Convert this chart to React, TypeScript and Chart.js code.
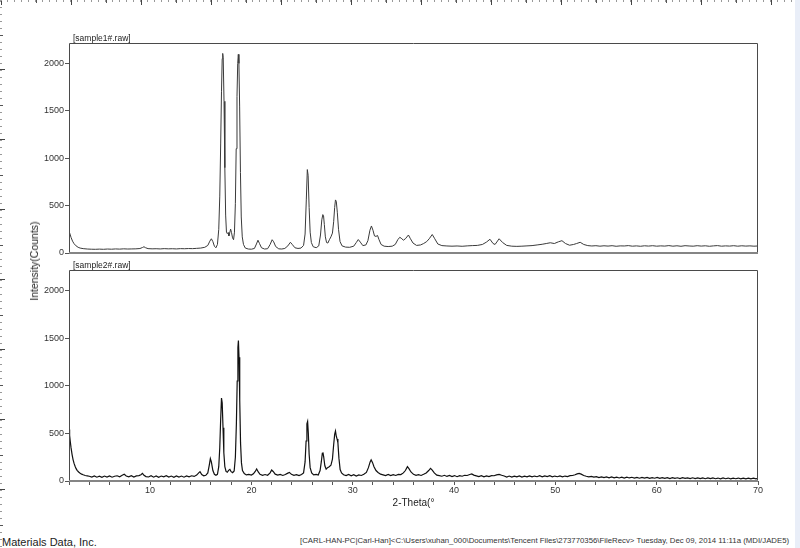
import React, { useEffect, useRef } from "react";
import { Chart, registerables } from "chart.js";

Chart.register(...registerables);

const FONT = '"Liberation Sans", Arial, sans-serif';

// ---- axes ----
const xRange = [2, 70];
const yRange = [0, 2215];
const xTickValues = [2, 4, 6, 8, 10, 12, 14, 16, 18, 20, 22, 24, 26, 28, 30, 32, 34, 36, 38, 40, 42, 44, 46, 48, 50, 52, 54, 56, 58, 60, 62, 64, 66, 68, 70];
const xTickLabels = [10, 20, 30, 40, 50, 60, 70];
const yTickValues = [0, 500, 1000, 1500, 2000];

const panelTitles = ["[sample1#.raw]", "[sample2#.raw]"];
const xAxisTitle = "2-Theta(\u00b0";
const yAxisTitle = "Intensity(Counts)";
const footerLeft = "Materials Data, Inc.";
const footerRight =
  "[CARL-HAN-PC|Carl-Han]<C:\\Users\\xuhan_000\\Documents\\Tencent Files\\273770356\\FileRecv> Tuesday, Dec 09, 2014 11:11a (MDI/JADE5)";

// ---- sample 1: [2-theta, counts] ----
const sample1: [number, number][] = [
  [2.0, 230], [2.1, 200], [2.2, 165], [2.35, 125], [2.5, 98], [2.7, 75], [2.9, 60], [3.1, 52], [3.4, 46], [3.8, 42],
  [4.2, 40], [4.6, 39], [5.0, 41], [5.4, 39], [5.8, 42], [6.2, 40], [6.6, 43], [7.0, 41], [7.4, 44], [7.8, 42],
  [8.2, 43], [8.6, 44], [9.0, 47], [9.25, 58], [9.4, 66], [9.55, 56], [9.8, 46], [10.2, 44], [10.6, 45], [11.0, 43],
  [11.4, 46], [11.8, 44], [12.2, 45], [12.6, 43], [13.0, 46], [13.4, 45], [13.8, 47], [14.2, 46], [14.6, 49], [15.0, 52],
  [15.4, 60], [15.7, 80], [15.9, 125], [16.05, 150], [16.2, 120], [16.35, 72], [16.5, 55], [16.65, 90], [16.78, 250],
  [16.88, 600], [16.97, 1150], [17.05, 1700], [17.12, 2050], [17.17, 2105], [17.22, 2060], [17.3, 1600], [17.38, 900],
  [17.46, 400], [17.54, 220], [17.62, 205], [17.7, 215], [17.78, 180], [17.86, 210], [17.95, 252], [18.04, 215],
  [18.14, 160], [18.24, 140], [18.33, 220], [18.42, 520], [18.5, 1100], [18.58, 1650], [18.65, 2000], [18.71, 2095],
  [18.77, 2000], [18.84, 1550], [18.92, 850], [19.0, 380], [19.1, 170], [19.22, 90], [19.4, 52], [19.7, 42], [20.0, 40],
  [20.3, 48], [20.5, 95], [20.65, 135], [20.8, 100], [21.0, 55], [21.3, 42], [21.6, 45], [21.85, 90], [22.05, 140],
  [22.2, 118], [22.4, 68], [22.7, 44], [23.0, 42], [23.3, 48], [23.6, 75], [23.85, 113], [24.05, 88], [24.3, 55],
  [24.6, 48], [24.9, 52], [25.15, 80], [25.3, 200], [25.42, 560], [25.52, 880], [25.6, 820], [25.7, 480], [25.8, 220],
  [25.92, 110], [26.1, 66], [26.4, 56], [26.65, 75], [26.82, 190], [26.95, 350], [27.05, 405], [27.12, 395], [27.2, 300],
  [27.3, 170], [27.42, 110], [27.55, 105], [27.7, 140], [27.85, 170], [28.0, 210], [28.12, 330], [28.22, 480], [28.3, 560],
  [28.38, 545], [28.48, 430], [28.6, 250], [28.75, 120], [28.95, 75], [29.3, 62], [29.7, 60], [30.1, 72], [30.35, 110],
  [30.55, 142], [30.75, 115], [31.0, 78], [31.3, 85], [31.5, 130], [31.7, 240], [31.85, 285], [32.0, 240], [32.15, 180],
  [32.3, 175], [32.45, 185], [32.6, 140], [32.8, 90], [33.1, 72], [33.5, 68], [33.9, 72], [34.2, 90], [34.45, 140],
  [34.65, 166], [34.85, 150], [35.0, 135], [35.2, 150], [35.5, 190], [35.7, 150], [35.95, 105], [36.3, 80], [36.7, 85],
  [37.0, 100], [37.3, 120], [37.55, 150], [37.85, 195], [38.1, 150], [38.4, 95], [38.8, 78], [39.3, 74], [39.8, 72],
  [40.3, 74], [40.8, 71], [41.3, 75], [41.8, 78], [42.3, 80], [42.8, 90], [43.2, 115], [43.55, 145], [43.85, 100],
  [44.05, 90], [44.45, 150], [44.8, 110], [45.2, 80], [45.7, 72], [46.2, 70], [46.7, 72], [47.2, 75], [47.7, 78],
  [48.2, 85], [48.7, 92], [49.1, 100], [49.5, 108], [49.9, 100], [50.3, 118], [50.65, 130], [51.0, 100], [51.4, 82],
  [51.8, 90], [52.1, 100], [52.45, 113], [52.8, 90], [53.2, 78], [53.6, 74], [54.0, 77], [54.4, 72], [54.8, 76],
  [55.2, 73], [55.6, 77], [56.0, 71], [56.4, 75], [56.8, 74], [57.2, 78], [57.6, 72], [58.0, 75], [58.4, 71], [58.8, 76],
  [59.2, 73], [59.6, 77], [60.0, 72], [60.4, 75], [60.8, 73], [61.2, 78], [61.6, 72], [62.0, 76], [62.4, 71], [62.8, 77],
  [63.2, 74], [63.6, 72], [64.0, 77], [64.4, 73], [64.8, 76], [65.2, 71], [65.6, 75], [66.0, 78], [66.4, 72], [66.8, 75],
  [67.2, 73], [67.6, 77], [68.0, 72], [68.4, 76], [68.8, 73], [69.2, 75], [69.6, 72], [70.0, 74],
];

// ---- sample 2: [2-theta, counts] ----
const sample2: [number, number][] = [
  [2.0, 540], [2.06, 480], [2.12, 420], [2.2, 350], [2.3, 280], [2.4, 225], [2.5, 185], [2.6, 155], [2.7, 130], [2.8, 112],
  [2.95, 95], [3.1, 82], [3.25, 72], [3.4, 65], [3.6, 58], [3.8, 54], [4.0, 50], [4.25, 42], [4.5, 54], [4.75, 40],
  [5.0, 50], [5.25, 38], [5.5, 52], [5.75, 42], [6.0, 53], [6.25, 40], [6.5, 50], [6.75, 55], [7.0, 44], [7.25, 60],
  [7.45, 70], [7.65, 52], [7.9, 44], [8.15, 56], [8.4, 42], [8.65, 54], [8.9, 57], [9.1, 66], [9.25, 80], [9.4, 60],
  [9.6, 46], [9.85, 42], [10.1, 56], [10.35, 40], [10.6, 53], [10.85, 39], [11.1, 52], [11.35, 43], [11.6, 55], [11.85, 41],
  [12.1, 52], [12.35, 39], [12.6, 54], [12.85, 42], [13.1, 52], [13.35, 40], [13.6, 53], [13.85, 44], [14.1, 55], [14.35, 48],
  [14.6, 62], [14.8, 85], [14.93, 98], [15.1, 68], [15.3, 54], [15.5, 60], [15.7, 85], [15.85, 170], [15.95, 235],
  [16.05, 200], [16.2, 110], [16.35, 70], [16.5, 60], [16.65, 70], [16.78, 150], [16.88, 350], [16.97, 650], [17.05, 870],
  [17.12, 820], [17.2, 560], [17.28, 300], [17.38, 150], [17.5, 100], [17.62, 92], [17.75, 112], [17.88, 122], [18.0, 98],
  [18.15, 88], [18.3, 105], [18.42, 250], [18.52, 600], [18.6, 1050], [18.67, 1400], [18.72, 1475], [18.78, 1300],
  [18.85, 850], [18.93, 400], [19.02, 190], [19.12, 110], [19.3, 78], [19.5, 64], [19.75, 70], [20.0, 62], [20.2, 76],
  [20.38, 100], [20.52, 126], [20.68, 95], [20.85, 70], [21.1, 60], [21.35, 68], [21.6, 60], [21.85, 85], [22.0, 115],
  [22.15, 100], [22.35, 72], [22.6, 62], [22.85, 70], [23.1, 58], [23.35, 68], [23.55, 80], [23.75, 90], [23.95, 70],
  [24.2, 60], [24.45, 66], [24.7, 56], [24.95, 68], [25.15, 85], [25.3, 200], [25.4, 420], [25.48, 600], [25.55, 625],
  [25.62, 500], [25.7, 280], [25.8, 140], [25.95, 85], [26.15, 64], [26.4, 70], [26.6, 62], [26.78, 110], [26.9, 200],
  [27.0, 290], [27.06, 300], [27.14, 250], [27.25, 160], [27.38, 125], [27.52, 140], [27.68, 150], [27.85, 165], [28.0, 230],
  [28.12, 380], [28.22, 490], [28.3, 525], [28.38, 470], [28.46, 440], [28.54, 400], [28.64, 240], [28.76, 120], [28.9, 85],
  [29.1, 66], [29.35, 56], [29.6, 68], [29.85, 55], [30.1, 66], [30.35, 52], [30.6, 64], [30.85, 58], [31.1, 70],
  [31.35, 90], [31.55, 140], [31.72, 200], [31.82, 222], [31.95, 195], [32.1, 150], [32.3, 110], [32.5, 90], [32.75, 72],
  [33.0, 64], [33.25, 56], [33.5, 68], [33.75, 56], [34.0, 66], [34.25, 58], [34.5, 70], [34.75, 68], [35.0, 85],
  [35.2, 110], [35.4, 150], [35.55, 130], [35.75, 95], [36.0, 70], [36.25, 60], [36.5, 66], [36.75, 58], [37.0, 70],
  [37.25, 85], [37.5, 110], [37.68, 133], [37.85, 115], [38.05, 85], [38.3, 62], [38.55, 56], [38.8, 50], [39.05, 60],
  [39.3, 48], [39.55, 58], [39.8, 47], [40.05, 57], [40.3, 45], [40.55, 56], [40.8, 50], [41.05, 60], [41.3, 58],
  [41.55, 68], [41.75, 74], [41.95, 62], [42.2, 54], [42.45, 46], [42.7, 55], [42.95, 44], [43.2, 54], [43.45, 46],
  [43.7, 56], [43.95, 55], [44.2, 64], [44.45, 70], [44.7, 60], [44.95, 52], [45.2, 42], [45.45, 52], [45.7, 41],
  [45.95, 51], [46.2, 43], [46.45, 53], [46.7, 42], [46.95, 50], [47.2, 44], [47.45, 54], [47.7, 43], [47.95, 52],
  [48.2, 45], [48.45, 55], [48.7, 44], [48.95, 53], [49.2, 46], [49.45, 55], [49.7, 44], [49.95, 52], [50.2, 45],
  [50.45, 54], [50.7, 44], [50.95, 52], [51.2, 47], [51.45, 56], [51.7, 58], [51.95, 66], [52.15, 75], [52.35, 80],
  [52.55, 72], [52.8, 58], [53.05, 50], [53.3, 44], [53.55, 48], [53.8, 40], [54.05, 46], [54.3, 36], [54.55, 44],
  [54.8, 35], [55.05, 43], [55.3, 34], [55.55, 42], [55.8, 33], [56.05, 41], [56.3, 32], [56.55, 40], [56.8, 31],
  [57.05, 40], [57.3, 32], [57.55, 39], [57.8, 30], [58.05, 38], [58.3, 29], [58.55, 37], [58.8, 30], [59.05, 38],
  [59.3, 28], [59.55, 36], [59.8, 29], [60.05, 37], [60.3, 27], [60.55, 35], [60.8, 28], [61.05, 36], [61.3, 26],
  [61.55, 35], [61.8, 27], [62.05, 34], [62.3, 26], [62.55, 35], [62.8, 27], [63.05, 33], [63.3, 25], [63.55, 34],
  [63.8, 26], [64.05, 33], [64.3, 25], [64.55, 33], [64.8, 24], [65.05, 32], [65.3, 25], [65.55, 32], [65.8, 24],
  [66.05, 31], [66.3, 23], [66.55, 32], [66.8, 24], [67.05, 31], [67.3, 23], [67.55, 30], [67.8, 24], [68.05, 31],
  [68.3, 22], [68.55, 30], [68.8, 23], [69.05, 30], [69.3, 22], [69.55, 29], [69.8, 23], [70.0, 28],
];

const framePlugin = {
  id: "frame",
  afterDatasetsDraw(chart: any, _args: any, opts: any) {
    const { ctx, chartArea } = chart;
    const { left, top, right, bottom } = chartArea;
    ctx.save();
    ctx.strokeStyle = "#4a4a4a";
    ctx.lineWidth = 1;
    ctx.beginPath();
    ctx.moveTo(left + 0.5, bottom);
    ctx.lineTo(left + 0.5, top + 0.5);
    ctx.lineTo(right - 0.5, top + 0.5);
    ctx.lineTo(right - 0.5, bottom);
    ctx.stroke();
    ctx.strokeStyle = "#858585";
    ctx.lineWidth = 2;
    ctx.beginPath();
    ctx.moveTo(left, bottom);
    ctx.lineTo(right, bottom);
    ctx.stroke();
    ctx.font = `8.5px ${FONT}`;
    ctx.fillStyle = "#222";
    ctx.textAlign = "left";
    ctx.textBaseline = "alphabetic";
    ctx.fillText(opts.text, left + 4, top - 2);
    ctx.restore();
  },
};

type PanelProps = {
  data: [number, number][];
  title: string;
  showX: boolean;
  top: number;
  height: number;
  padTop: number;
  padBottom: number;
  color: string;
  lineWidth: number;
};

function Panel({ data, title, showX, top, height, padTop, padBottom, color, lineWidth }: PanelProps) {
  const ref = useRef<HTMLCanvasElement>(null);
  useEffect(() => {
    const tickFont = { family: FONT, size: 9 };
    const chart = new Chart(ref.current as HTMLCanvasElement, {
      type: "line",
      data: {
        datasets: [
          {
            data: data.map(([x, y]) => ({ x, y })),
            borderColor: color,
            borderWidth: lineWidth,
            pointRadius: 0,
            tension: 0,
            fill: false,
          },
        ],
      },
      options: {
        responsive: false,
        animation: false,
        events: [],
        layout: { padding: { left: 0, right: 42, top: padTop, bottom: padBottom } },
        plugins: {
          legend: { display: false },
          tooltip: { enabled: false },
          // @ts-ignore
          frame: { text: title },
        },
        scales: {
          x: {
            type: "linear",
            min: xRange[0],
            max: xRange[1],
            display: showX,
            afterBuildTicks: (s: any) => {
              s.ticks = xTickValues.map((v) => ({ value: v }));
            },
            afterFit: (s: any) => {
              s.height = showX ? 39 : 0;
            },
            border: { display: false },
            grid: { drawOnChartArea: false, drawTicks: true, tickLength: 4, color: "#555", lineWidth: 1 },
            ticks: {
              autoSkip: false,
              maxRotation: 0,
              minRotation: 0,
              padding: 0,
              font: tickFont,
              color: "#333",
              callback: (v: any) => (xTickLabels.includes(Number(v)) ? String(v) : ""),
            },
            title: {
              display: true,
              text: xAxisTitle,
              font: { family: FONT, size: 10 },
              color: "#222",
              padding: { top: 0, bottom: 11 },
            },
          },
          y: {
            type: "linear",
            min: yRange[0],
            max: yRange[1],
            afterBuildTicks: (s: any) => {
              s.ticks = yTickValues.map((v) => ({ value: v }));
            },
            afterFit: (s: any) => {
              s.width = 69;
            },
            border: { display: false },
            grid: { drawOnChartArea: false, drawTicks: true, tickLength: 4, color: "#555", lineWidth: 1 },
            ticks: { padding: 1, font: tickFont, color: "#333", callback: (v: any) => String(v) },
          },
        },
      },
      plugins: [framePlugin],
    });
    return () => chart.destroy();
  }, []);
  return (
    <canvas
      ref={ref}
      width={800}
      height={height}
      style={{ position: "absolute", left: 0, top, width: 800, height, display: "block" }}
    />
  );
}

export default function App() {
  return (
    <div
      style={{
        position: "absolute",
        left: 0,
        top: 0,
        width: 800,
        height: 548,
        background: "#fff",
        overflow: "hidden",
        fontFamily: FONT,
      }}
    >
      {/* top ruler */}
      <div
        style={{
          position: "absolute",
          left: 0,
          top: 0,
          width: 795,
          height: 5,
          background:
            "repeating-linear-gradient(to right, #444 0 1px, transparent 1px 70px) 1px 0 / 100% 5px no-repeat," +
            "repeating-linear-gradient(to right, #555 0 1px, transparent 1px 70px) 36px 0 / 100% 3px no-repeat," +
            "repeating-linear-gradient(to right, #999 0 1px, transparent 1px 7px) 0 0 / 100% 2px no-repeat",
        }}
      />
      {/* left ruler */}
      <div
        style={{
          position: "absolute",
          left: 0,
          top: 0,
          width: 5,
          height: 548,
          background:
            "repeating-linear-gradient(to bottom, #444 0 1px, transparent 1px 70px) 0 69px / 5px 100% no-repeat," +
            "repeating-linear-gradient(to bottom, #555 0 1px, transparent 1px 70px) 0 35px / 3px 100% no-repeat," +
            "repeating-linear-gradient(to bottom, #999 0 1px, transparent 1px 7px) 0 0 / 2px 100% no-repeat",
        }}
      />
      <Panel
        data={sample1}
        title={panelTitles[0]}
        showX={false}
        top={0}
        height={260}
        padTop={43}
        padBottom={7}
        color="#3a3a3a"
        lineWidth={1}
      />
      <Panel
        data={sample2}
        title={panelTitles[1]}
        showX={true}
        top={258}
        height={262}
        padTop={12}
        padBottom={0}
        color="#111"
        lineWidth={1.2}
      />
      <div
        style={{
          position: "absolute",
          left: 34,
          top: 261,
          transform: "translate(-50%, -50%) rotate(-90deg)",
          whiteSpace: "nowrap",
          fontSize: 10.5,
          color: "#222",
          lineHeight: "12px",
        }}
      >
        {yAxisTitle}
      </div>
      <div
        style={{
          position: "absolute",
          left: 2,
          top: 536,
          whiteSpace: "nowrap",
          fontSize: 11,
          color: "#222",
          lineHeight: "13px",
        }}
      >
        {footerLeft}
      </div>
      <div
        style={{
          position: "absolute",
          left: 300,
          top: 536,
          whiteSpace: "nowrap",
          fontSize: 7.8,
          color: "#333",
          lineHeight: "10px",
        }}
      >
        {footerRight}
      </div>
      {/* right edge strip */}
      <div
        style={{
          position: "absolute",
          left: 795,
          top: 0,
          width: 5,
          height: 548,
          background: "#e9eef8",
        }}
      />
    </div>
  );
}
